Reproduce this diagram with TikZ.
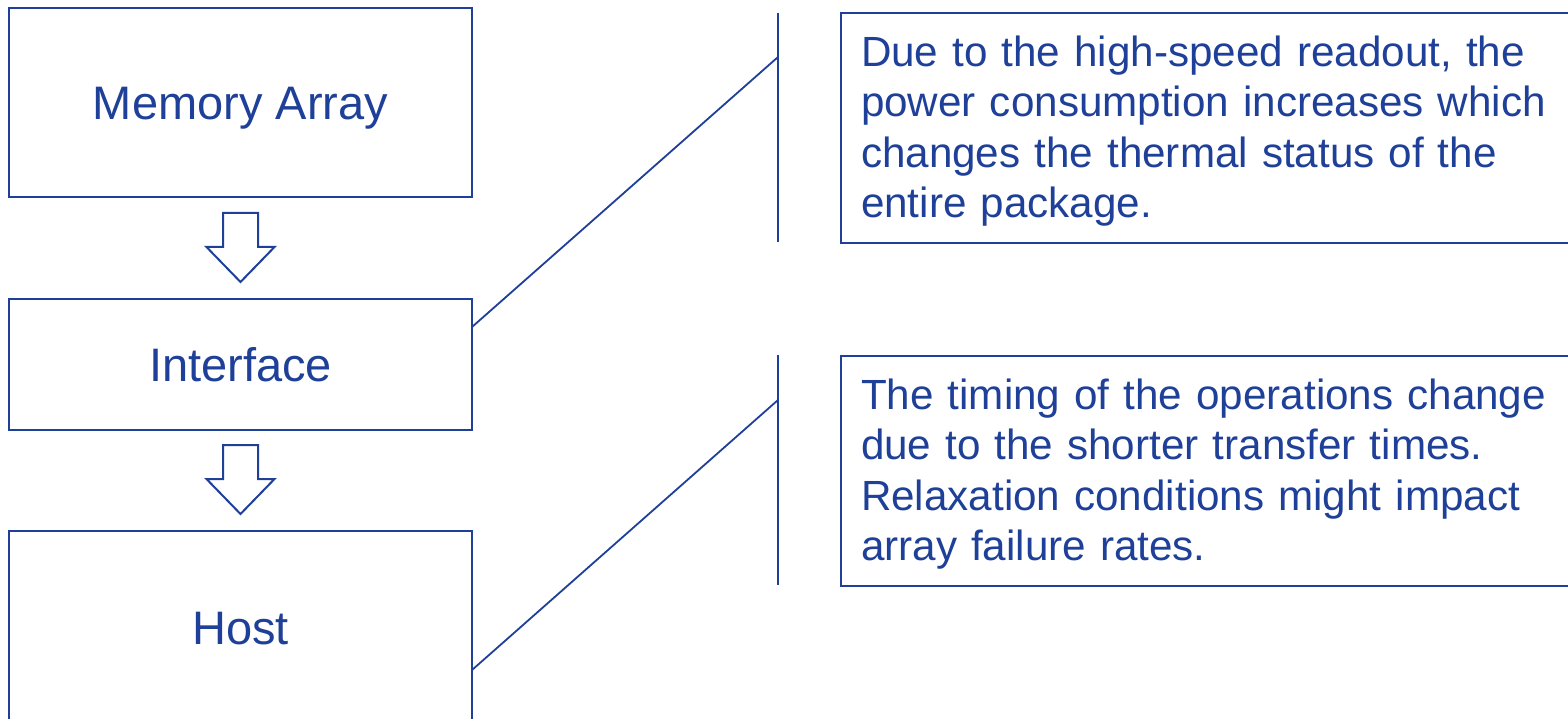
\documentclass[tikz,border=0pt]{standalone}
\usepackage{fontspec}
\setmainfont{Liberation Sans}
\definecolor{ink}{RGB}{31,64,153}
\tikzset{
  every node/.style={text=ink},
  stagebox/.style={draw=ink, line width=2pt, rectangle, inner sep=0pt,
    minimum width=463pt, font=\fontsize{47}{56}\selectfont,
    text height=34pt, text depth=0pt},
  notebox/.style={draw=ink, line width=2pt, rectangle, anchor=north west,
    inner xsep=20pt, inner ysep=0pt, text width=700pt, align=left,
    minimum height=230pt, font=\fontsize{42.2}{50.4}\selectfont},
  flowarrow/.style={draw=ink, line width=2pt, fill=white, line join=miter},
  leader/.style={draw=ink, line width=1.8pt}
}
% a hollow block arrow pointing down, tail centre at #1
\newcommand\downblock[1]{%
  \draw[flowarrow] #1 ++(-17.5,0) -- ++(35,0) -- ++(0,34) -- ++(16.5,0)
    -- ++(-34,35) -- ++(-34,-35) -- ++(16.5,0) -- cycle;}
\begin{document}
\begin{tikzpicture}[x=1pt, y=-1pt]
  \clip (0,0) rectangle (1568,719);
  \fill[white] (0,0) rectangle (1568,719);

  % process stages
  \node[stagebox, minimum height=189pt] (mem)   at (240.5,102.5) {Memory Array};
  \node[stagebox, minimum height=131pt] (iface) at (240.5,364.5) {Interface};
  \node[stagebox, minimum height=192pt] (host)  at (240.5,627)   {Host};

  % flow between stages
  \coordinate (down1) at (240.5,213);
  \coordinate (down2) at (240.5,445);
  \downblock{(down1)}
  \downblock{(down2)}

  % explanatory notes
  \node[notebox] (note1) at (840,12)
    {\rule{0pt}{37pt}Due to the high-speed readout, the\\
     power consumption increases which\\
     changes the thermal status of the\\
     entire package.};
  \node[notebox] (note2) at (840,355)
    {\rule{0pt}{37pt}The timing of the operations change\\
     due to the shorter transfer times.\\
     Relaxation conditions might impact\\
     array failure rates.};

  % leader lines from the stages to the notes
  \coordinate (a1)  at (472,327);
  \coordinate (k1)  at (778,57);
  \coordinate (b1t) at (778,13);
  \coordinate (b1b) at (778,242);
  \coordinate (a2)  at (472,670);
  \coordinate (k2)  at (778,400);
  \coordinate (b2t) at (778,355);
  \coordinate (b2b) at (778,585);
  \draw[leader] (a1) -- (k1);
  \draw[leader] (b1t) -- (b1b);
  \draw[leader] (a2) -- (k2);
  \draw[leader] (b2t) -- (b2b);
\end{tikzpicture}
\end{document}
